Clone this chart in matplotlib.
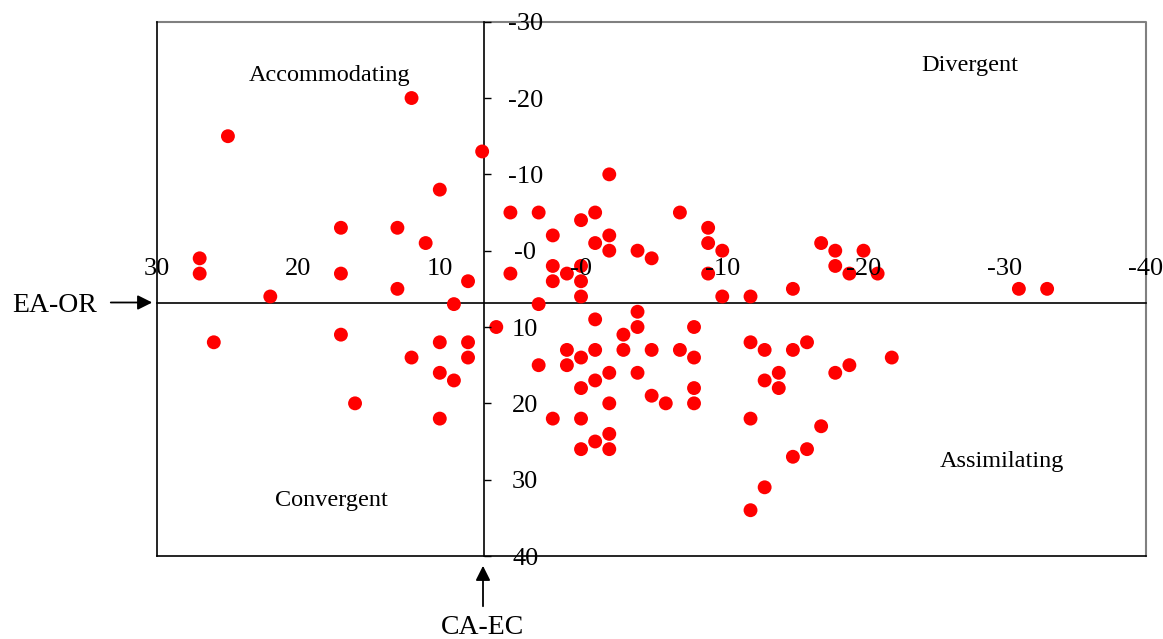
import matplotlib
matplotlib.use("Agg")
import matplotlib.pyplot as plt

plt.rcParams["font.family"] = ["Liberation Serif", "DejaVu Serif"]

# Puntuaciones de cada alumno
ea_or = [12, 25, 7, 10, 17, 13, 11, 27, 27, 17, 22, 13, 8, 9,
         26, 17, 10, 8, 12, 8, 10, 9, 16, 10,
         -2, 5, 3, -1, -7, 0, -9, 2, -2, -1, -9, -17, -2, -4, -10, -5,
         2, 0, 1, 5, -9, 2, 0, 0, -10, -12, 3, -15, -18, -20, -18, -19,
         -21, -31, -33,
         6, 3, 2, 1, 1, 0, 0, 0, 0, -1, -1, -1, -1, -2, -2, -2, -2,
         -3, -3, -4, -4, -4, -5, -5, -6, -7, -8, -8, -8, -8,
         -12, -12, -12, -13, -13, -13, -14, -14, -15, -15, -16, -16,
         -17, -18, -19, -22]
ca_ec = [-20, -15, -13, -8, -3, -3, -1, 1, 3, 3, 6, 5, 4, 7,
         12, 11, 12, 12, 14, 14, 16, 17, 20, 22,
         -10, -5, -5, -5, -5, -4, -3, -2, -2, -1, -1, -1, 0, 0, 0, 1,
         2, 2, 3, 3, 3, 4, 4, 6, 6, 6, 7, 5, 0, 0, 2, 3,
         3, 5, 5,
         10, 15, 22, 13, 15, 14, 18, 22, 26, 9, 13, 17, 25, 16, 20, 24, 26,
         11, 13, 8, 10, 16, 13, 19, 20, 13, 10, 14, 18, 20,
         12, 22, 34, 13, 17, 31, 16, 18, 13, 27, 12, 26,
         23, 16, 15, 14]

# Marcas de los ejes
valores_x = [30, 20, 10, 0, -10, -20, -30, -40]
etiquetas_x = ["30", "20", "10", "-0", "-10", "-20", "-30", "-40"]
valores_y = [-30, -20, -10, 0, 10, 20, 30, 40]
etiquetas_y = ["-30", "-20", "-10", "-0", "10", "20", "30", "40"]

# Punto donde se cruzan los ejes
cruce_x = 6.9
cruce_y = 6.8

# Nombres de los cuadrantes
cuadrantes = ["Accommodating", "Divergent", "Assimilating", "Convergent"]
cuadrantes_x = [17.8, -27.5, -29.8, 17.7]
cuadrantes_y = [-23.0, -24.3, 27.6, 32.7]

fig = plt.figure(figsize=(11.63, 6.39), dpi=100)
ax = fig.add_axes([0.13526, 0.12989, 0.85012, 0.83615])

ax.set_xlim(30, -40)
ax.set_ylim(40, -30)

# marco: izquierda y abajo en negro, arriba y derecha en gris
ax.spines["left"].set_color("black")
ax.spines["bottom"].set_color("black")
ax.spines["left"].set_linewidth(1.2)
ax.spines["bottom"].set_linewidth(1.2)
ax.plot([0, 1, 1], [1, 1, 0], transform=ax.transAxes, color="#808080",
        linewidth=1.5, clip_on=False, zorder=1)

# eje vertical (CA-EC) usando la espina derecha
ax.spines["right"].set_position(("data", cruce_x))
ax.spines["right"].set_color("black")
ax.spines["right"].set_linewidth(1.2)
ax.yaxis.tick_right()
ax.set_yticks(valores_y)
ax.set_yticklabels(etiquetas_y)
ax.tick_params(axis="y", which="both", direction="out", length=5, width=1.0,
               pad=25, labelsize=19, left=False, right=True)
for tick in ax.yaxis.get_major_ticks():
    tick.label2.set_horizontalalignment("center")

# eje horizontal (EA-OR) usando la espina superior
ax.spines["top"].set_position(("data", cruce_y))
ax.spines["top"].set_color("black")
ax.spines["top"].set_linewidth(1.2)
ax.xaxis.tick_top()
ax.set_xticks(valores_x)
ax.set_xticklabels(etiquetas_x)
ax.tick_params(axis="x", which="both", length=0, pad=24, labelsize=19,
               bottom=False, top=True)
for tick in ax.xaxis.get_major_ticks():
    tick.label2.set_verticalalignment("center")

# las lineas de los ejes quedan debajo de los puntos, las etiquetas encima
for lado in ["left", "right", "top", "bottom"]:
    ax.spines[lado].set_zorder(1.5)
ax.xaxis.set_zorder(3)
ax.yaxis.set_zorder(3)

ax.scatter(ea_or, ca_ec, s=100, color="#ff0000", edgecolors="none",
           zorder=2, clip_on=False)

for nombre, qx, qy in zip(cuadrantes, cuadrantes_x, cuadrantes_y):
    ax.text(qx, qy, nombre, ha="center", va="center", fontsize=17.5)

# flechas con los nombres de los ejes
ancho, alto = 1163, 639
fig.text(55 / ancho, 1 - 306 / alto, "EA-OR", ha="center", va="center",
         fontsize=20)
fig.add_artist(matplotlib.patches.FancyArrowPatch(
    (108 / ancho, 1 - 302.5 / alto), (155 / ancho, 1 - 302.5 / alto),
    transform=fig.transFigure, arrowstyle="-|>", mutation_scale=22,
    color="black", linewidth=1.3))

fig.text(482 / ancho, 1 - 627 / alto, "CA-EC", ha="center", va="center",
         fontsize=20)
fig.add_artist(matplotlib.patches.FancyArrowPatch(
    (483 / ancho, 1 - 609 / alto), (483 / ancho, 1 - 563 / alto),
    transform=fig.transFigure, arrowstyle="-|>", mutation_scale=22,
    color="black", linewidth=1.3))

fig.savefig("out.png", dpi=100)
